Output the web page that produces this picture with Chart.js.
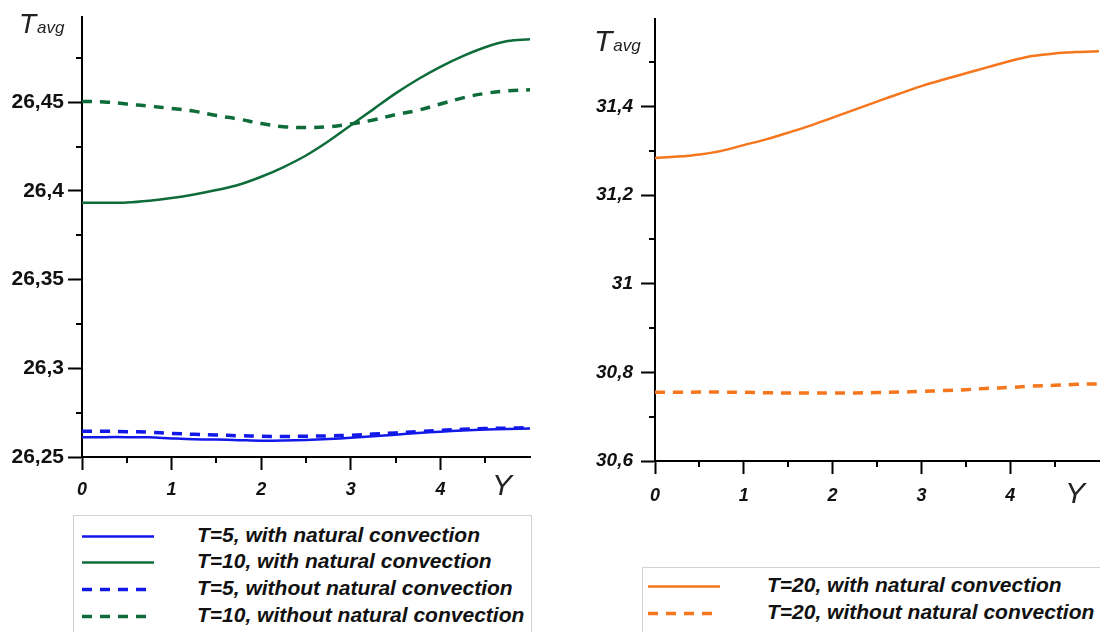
<!DOCTYPE html>
<html>
<head>
<meta charset="utf-8">
<script src="https://cdn.jsdelivr.net/npm/chart.js@4.4.1/dist/chart.umd.min.js"></script>
<style>
  body { margin: 0; background: #fff; font-family: "Liberation Sans", Arial, sans-serif; }
  #wrap { position: relative; width: 1100px; height: 632px; overflow: hidden; background: #fff; }
  .cv { position: absolute; top: 0; }
  .tavg { position: absolute; color: #222; font-style: italic; white-space: nowrap; line-height: 1; }
  .tavg .s { font-size: 17px; margin-left: 1px; }
  .ylab { position: absolute; color: #222; font-style: italic; font-size: 30px; line-height: 1; }
  .legend { position: absolute; border: 1px solid #d2d2d2; background: #fff; }
  .row { position: absolute; left: 0; height: 27px; width: 100%; }
  .row svg { position: absolute; top: 0; }
  .row span { position: absolute; top: 0; line-height: 27px; font: italic bold 21px "Liberation Sans", Arial, sans-serif; color: #111; white-space: nowrap; }
</style>
</head>
<body>
<div id="wrap">
  <canvas id="left" class="cv" style="left:0"></canvas>
  <canvas id="right" class="cv" style="left:570px"></canvas>

  <div class="tavg" style="left:19px; top:10px; font-size:28px">T<span class="s">avg</span></div>
  <div class="tavg" style="left:594px; top:26px; font-size:30px">T<span class="s">avg</span></div>
  <div class="ylab" style="left:492px; top:470px">Y</div>
  <div class="ylab" style="left:1065px; top:478px">Y</div>

  <div id="legendLeft" class="legend" style="left:73px; top:515px; width:457px; height:140px"></div>
  <div id="legendRight" class="legend" style="left:642px; top:567px; width:480px; height:90px"></div>
</div>

<script>
// position along the channel
var yPos = [0, 0.25, 0.5, 0.75, 1, 1.25, 1.5, 1.75, 2, 2.25, 2.5, 2.75, 3, 3.25, 3.5, 3.75, 4, 4.25, 4.5, 4.75, 5];

// average temperature, left panel
var t5With = [26.2612, 26.2612, 26.2612, 26.2611, 26.2605, 26.2600, 26.2598, 26.2595, 26.2592, 26.2593, 26.2596,
              26.2601, 26.2608, 26.2617, 26.2626, 26.2635, 26.2643, 26.2650, 26.2655, 26.2658, 26.2660];
var t10With = [26.3933, 26.3933, 26.3935, 26.3945, 26.3960, 26.3980, 26.4005, 26.4035, 26.4080, 26.4135, 26.4200,
               26.4280, 26.4370, 26.4460, 26.4550, 26.4630, 26.4700, 26.4760, 26.4810, 26.4845, 26.4855];
var t5Without = [26.2645, 26.2645, 26.2643, 26.2640, 26.2633, 26.2628, 26.2624, 26.2620, 26.2617, 26.2616, 26.2617,
                 26.2619, 26.2623, 26.2629, 26.2636, 26.2643, 26.2650, 26.2656, 26.2660, 26.2663, 26.2665];
var t10Without = [26.4505, 26.4502, 26.4490, 26.4478, 26.4465, 26.4450, 26.4425, 26.4405, 26.4380, 26.4362, 26.4358,
                  26.4362, 26.4378, 26.4400, 26.4430, 26.4455, 26.4490, 26.4525, 26.4550, 26.4565, 26.4570];

// average temperature, right panel
var t20With = [31.284, 31.287, 31.292, 31.300, 31.313, 31.326, 31.341, 31.357, 31.375, 31.393, 31.411,
               31.429, 31.446, 31.461, 31.475, 31.489, 31.503, 31.514, 31.520, 31.523, 31.525];
var t20Without = [30.755, 30.755, 30.7555, 30.7555, 30.755, 30.754, 30.7535, 30.7535, 30.7535, 30.7537, 30.7545,
                  30.7555, 30.757, 30.759, 30.761, 30.764, 30.766, 30.769, 30.771, 30.773, 30.774];

var BLUE = 'rgb(18, 24, 232)';
var GREEN = 'rgb(14, 108, 58)';
var ORANGE = 'rgb(245, 118, 28)';

function pts(vals) {
    return yPos.map(function (x, i) { return { x: x, y: vals[i] }; });
}

function isMult(v, step) {
    var r = v / step;
    return Math.abs(r - Math.round(r)) < 1e-6;
}

function fmt(v) {
    return String(Number(v.toFixed(3))).replace('.', ',');
}

// short ticks between the labelled ones
var minorTicks = {
    id: 'minorTicks',
    afterDraw: function (chart, args, opts) {
        var ctx = chart.ctx;
        ctx.save();
        ctx.strokeStyle = '#000';
        ctx.lineWidth = 2;
        var sx = chart.scales.x, sy = chart.scales.y;
        sx.ticks.forEach(function (t) {
            if (isMult(t.value, opts.x)) return;
            var p = Math.round(sx.getPixelForValue(t.value));
            ctx.beginPath();
            ctx.moveTo(p, chart.chartArea.bottom);
            ctx.lineTo(p, chart.chartArea.bottom + 6);
            ctx.stroke();
        });
        sy.ticks.forEach(function (t) {
            if (isMult(t.value, opts.y)) return;
            var p = Math.round(sy.getPixelForValue(t.value));
            ctx.beginPath();
            ctx.moveTo(chart.chartArea.left, p);
            ctx.lineTo(chart.chartArea.left - 6, p);
            ctx.stroke();
        });
        ctx.restore();
    }
};

function makeChart(id, w, h, datasets, cfg) {
    var canvas = document.getElementById(id);
    canvas.style.width = w + 'px';
    canvas.style.height = h + 'px';
    return new Chart(canvas, {
        type: 'line',
        data: { datasets: datasets },
        plugins: [minorTicks],
        options: {
            responsive: false,
            animation: false,
            devicePixelRatio: 1,
            layout: { padding: { left: 0, right: cfg.padRight, top: cfg.padTop, bottom: 0 } },
            elements: { point: { radius: 0 }, line: { tension: 0.35 } },
            plugins: {
                legend: { display: false },
                tooltip: { enabled: false },
                minorTicks: { x: 1, y: cfg.yMajor }
            },
            scales: {
                x: {
                    type: 'linear',
                    min: 0,
                    max: 5,
                    afterFit: function (s) { s.height = cfg.xHeight; },
                    border: { display: true, color: '#000', width: 2 },
                    grid: {
                        drawOnChartArea: false,
                        tickLength: 13,
                        tickWidth: 2,
                        tickColor: function (c) {
                            var v = c.tick ? c.tick.value : 0;
                            return (isMult(v, 1) && v < 5) ? '#000' : 'rgba(0,0,0,0)';
                        }
                    },
                    ticks: {
                        stepSize: 0.5,
                        autoSkip: false,
                        maxRotation: 0,
                        padding: cfg.xPad,
                        color: '#111',
                        font: { family: 'Liberation Sans', size: 18, weight: 'bold', style: 'italic' },
                        callback: function (v) { return (isMult(v, 1) && v < 5) ? String(v) : ''; }
                    }
                },
                y: {
                    type: 'linear',
                    min: cfg.yMin,
                    max: cfg.yMax,
                    afterFit: function (s) { s.width = cfg.yWidth; },
                    border: { display: true, color: '#000', width: 2 },
                    grid: {
                        drawOnChartArea: false,
                        tickLength: 14,
                        tickWidth: 2,
                        tickColor: function (c) {
                            var v = c.tick ? c.tick.value : 0;
                            return isMult(v, cfg.yMajor) ? '#000' : 'rgba(0,0,0,0)';
                        }
                    },
                    ticks: {
                        stepSize: cfg.yMajor / 2,
                        includeBounds: false,
                        autoSkip: false,
                        padding: cfg.yPad,
                        color: '#111',
                        font: cfg.yFont,
                        callback: function (v) { return isMult(v, cfg.yMajor) ? fmt(v) : ''; }
                    }
                }
            }
        }
    });
}

function line(label, vals, color, dashed) {
    return {
        label: label,
        data: pts(vals),
        borderColor: color,
        backgroundColor: color,
        borderWidth: dashed ? 3.5 : 2.5,
        borderDash: dashed ? [10, 8] : [],
        fill: false
    };
}

var leftSets = [
    line('T=5, with natural convection', t5With, BLUE, false),
    line('T=10, with natural convection', t10With, GREEN, false),
    line('T=5, without natural convection', t5Without, BLUE, true),
    line('T=10, without natural convection', t10Without, GREEN, true)
];
var rightSets = [
    line('T=20, with natural convection', t20With, ORANGE, false),
    line('T=20, without natural convection', t20Without, ORANGE, true)
];

makeChart('left', 545, 510, leftSets, {
    padRight: 15, padTop: 10, xHeight: 53, yWidth: 82, xPad: 9,
    yMin: 26.25, yMax: 26.4983, yMajor: 0.05, yPad: 4,
    yFont: { family: 'Liberation Sans', size: 21, weight: 'bold' }
});
// the right canvas runs past the page edge so the plot reaches x = 1100
makeChart('right', 540, 510, rightSets, {
    padRight: 10, padTop: 15, xHeight: 49, yWidth: 85, xPad: 11,
    yMin: 30.6, yMax: 31.5967, yMajor: 0.2, yPad: 8,
    yFont: { family: 'Liberation Sans', size: 19, weight: 'bold', style: 'italic' }
});

// legend boxes built from the dataset labels
function buildLegend(id, sets, tops, sampleLeft, textLeft) {
    var box = document.getElementById(id);
    sets.forEach(function (ds, i) {
        var row = document.createElement('div');
        row.className = 'row';
        row.style.top = tops[i] + 'px';
        var dashed = ds.borderDash.length > 0;
        row.innerHTML =
            '<svg width="80" height="27" style="left:' + sampleLeft + 'px">' +
            '<line x1="0" y1="13.5" x2="72" y2="13.5" stroke="' + ds.borderColor + '" stroke-width="' +
            (dashed ? 3.5 : 2.5) + '"' + (dashed ? ' stroke-dasharray="10 8"' : '') + '/></svg>' +
            '<span style="left:' + textLeft + 'px"></span>';
        row.querySelector('span').textContent = ds.label;
        box.appendChild(row);
    });
}
buildLegend('legendLeft', leftSets, [7, 33, 60, 87], 8, 123);
buildLegend('legendRight', rightSets, [5, 32], 5, 124);
</script>
</body>
</html>
